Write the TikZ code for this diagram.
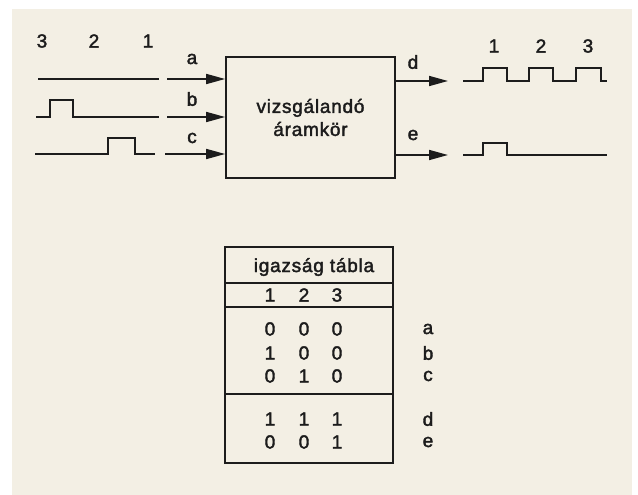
\documentclass[tikz,border=0pt]{standalone}
\usepackage{fontspec}
\setmainfont{Liberation Sans}[LetterSpace=4,FakeBold=2]
\usetikzlibrary{arrows.meta,positioning}
\definecolor{paper}{RGB}{243,239,228}
\definecolor{ink}{RGB}{28,28,28}

\begin{document}
\begin{tikzpicture}[x=1pt,y=-1pt,line width=1.7pt,draw=ink,text=ink]
  \tikzstyle{signal}=[line width=1.7pt,line join=miter]
  \tikzstyle{wire}=[-{Triangle[length=19pt,width=10pt]}]
  \tikzstyle{lbl}=[font=\fontsize{19}{19}\selectfont,inner sep=0pt]

  \fill[white] (0,0) rectangle (638,495);
  \fill[paper] (12,9) rectangle (632,495);

  % the circuit under test
  \node[draw,minimum width=169pt,minimum height=121pt,align=center,
        font=\fontsize{19}{23}\selectfont] (box) at (310.5,117.5) {vizsgálandó\\áramkör};

  % inputs
  \foreach \n/\t in {3/42,2/94,1/148}
    \node[lbl] (in\n) at (\t,41) {\n};
  \node[lbl] (a) at (192,59)  {a};
  \node[lbl] (b) at (192,99)  {b};
  \node[lbl] (c) at (192,138) {c};

  \draw[signal] (38,79) -- (159,79);
  \draw[signal] (36,117) -- (50,117) |- (73,100) |- (159,117);
  \draw[signal] (35,154) -- (108,154) |- (135,138) |- (155,154);

  \coordinate (a_in) at (167,79);
  \coordinate (b_in) at (167,117);
  \coordinate (c_in) at (165,154);
  \path[wire]
    (a_in) edge (box.west |- a_in)
    (b_in) edge (box.west |- b_in)
    (c_in) edge (box.west |- c_in);

  % outputs
  \coordinate (d_out) at (448,81);
  \coordinate (e_out) at (448,155);
  \path[wire]
    (box.east |- d_out) edge (d_out)
    (box.east |- e_out) edge (e_out);
  \node[lbl] (d) at (413,62)  {d};
  \node[lbl] (e) at (413,135) {e};

  \foreach \n/\t in {1/494,2/541,3/588}
    \node[lbl] (out\n) at (\t,46) {\n};
  \draw[signal] (463,81) -- (483,81) |- (507,68) |- (529,81) |- (553,68)
                |- (576,81) |- (601,68) |- (607,81);
  \draw[signal] (463,155) -- (483,155) |- (507,143) |- (607,155);

  % truth table
  \node[draw,minimum width=168pt,minimum height=216pt] (tab) at (309,355) {};
  \draw (tab.west |- 0,283) -- (tab.east |- 0,283);
  \draw (tab.west |- 0,307) -- (tab.east |- 0,307);
  \draw (tab.west |- 0,394) -- (tab.east |- 0,394);
  \node[lbl] (head) at (314,267) {igazság tábla};
  \foreach \n/\t in {1/270,2/304,3/337}
    \node[lbl] (col\n) at (\t,295) {\n};
  \foreach \p/\q/\r/\y/\s in {0/0/0/329/a,1/0/0/353/b,0/1/0/376/c,1/1/1/419/d,0/0/1/442/e}{
    \node[lbl] (\s1) at (270,\y) {\p};
    \node[lbl] (\s2) at (304,\y) {\q};
    \node[lbl] (\s3) at (337,\y) {\r};
    \node[lbl] (\s row) at (428,\y) {\s};
  }
\end{tikzpicture}
\end{document}
